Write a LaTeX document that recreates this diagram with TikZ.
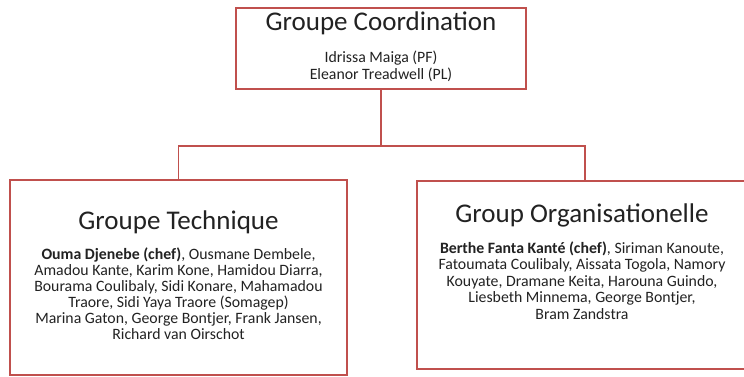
\documentclass[tikz,border=0pt]{standalone}
\usepackage{fontspec}
\setmainfont{Carlito}
\definecolor{boxred}{HTML}{C0504D}
\definecolor{ink}{HTML}{222222}
\begin{document}
\begin{tikzpicture}[x=1bp,y=-1bp,
  box/.style={draw=boxred,line width=1.6bp,fill=white,rectangle,inner sep=0pt},
  conn/.style={draw=boxred,line width=1.6bp},
  title/.style={anchor=base,inner sep=0pt,text=ink,font=\fontsize{27bp}{31bp}\selectfont},
  body/.style={anchor=base,inner sep=0pt,text=ink}]
\clip (0,0) rectangle (744,376);
\fill[white] (0,0) rectangle (744,376);
% boxes
\node[box,minimum width=290bp,minimum height=81bp] (top) at (381,48.5) {};
\node[box,minimum width=337bp,minimum height=195bp] (left) at (178.5,277.5) {};
\node[box,minimum width=336bp,minimum height=188bp] (right) at (585,275) {};
% connectors
\coordinate (mid) at (381,146);
\draw[conn] (top.south) -- (mid) -| (left.north);
\draw[conn] (mid) -| (right.north);
% top texts
\node[title] (toptitle) at (381,30) {Groupe Coordination};
\node[body] (topbody) at (381,62) {\fontsize{15.8bp}{17.5bp}\selectfont
  \begin{tabular}[t]{@{}c@{}}Idrissa Maiga (PF)\\Eleanor Treadwell (PL)\end{tabular}};
% left texts
\node[title] (lefttitle) at (178.5,229) {Groupe Technique};
\node[body] (leftbody) at (178.5,259) {\fontsize{15.8bp}{16bp}\selectfont
  \begin{tabular}[t]{@{}c@{}}\textbf{Ouma Djenebe (chef)}, Ousmane Dembele,\\
  Amadou Kante, Karim Kone, Hamidou Diarra,\\
  Bourama Coulibaly, Sidi Konare, Mahamadou\\
  Traore, Sidi Yaya Traore (Somagep)\\
  Marina Gaton, George Bontjer, Frank Jansen,\\
  Richard van Oirschot\end{tabular}};
% right texts
\node[title] (righttitle) at (582,222) {Group Organisationelle};
\node[body] (rightbody) at (582,253) {\fontsize{15.8bp}{16.5bp}\selectfont
  \begin{tabular}[t]{@{}c@{}}\textbf{Berthe Fanta Kanté (chef)}, Siriman Kanoute,\\
  Fatoumata Coulibaly, Aissata Togola, Namory\\
  Kouyate, Dramane Keita, Harouna Guindo,\\
  Liesbeth Minnema, George Bontjer,\\
  Bram Zandstra\end{tabular}};
\end{tikzpicture}
\end{document}
